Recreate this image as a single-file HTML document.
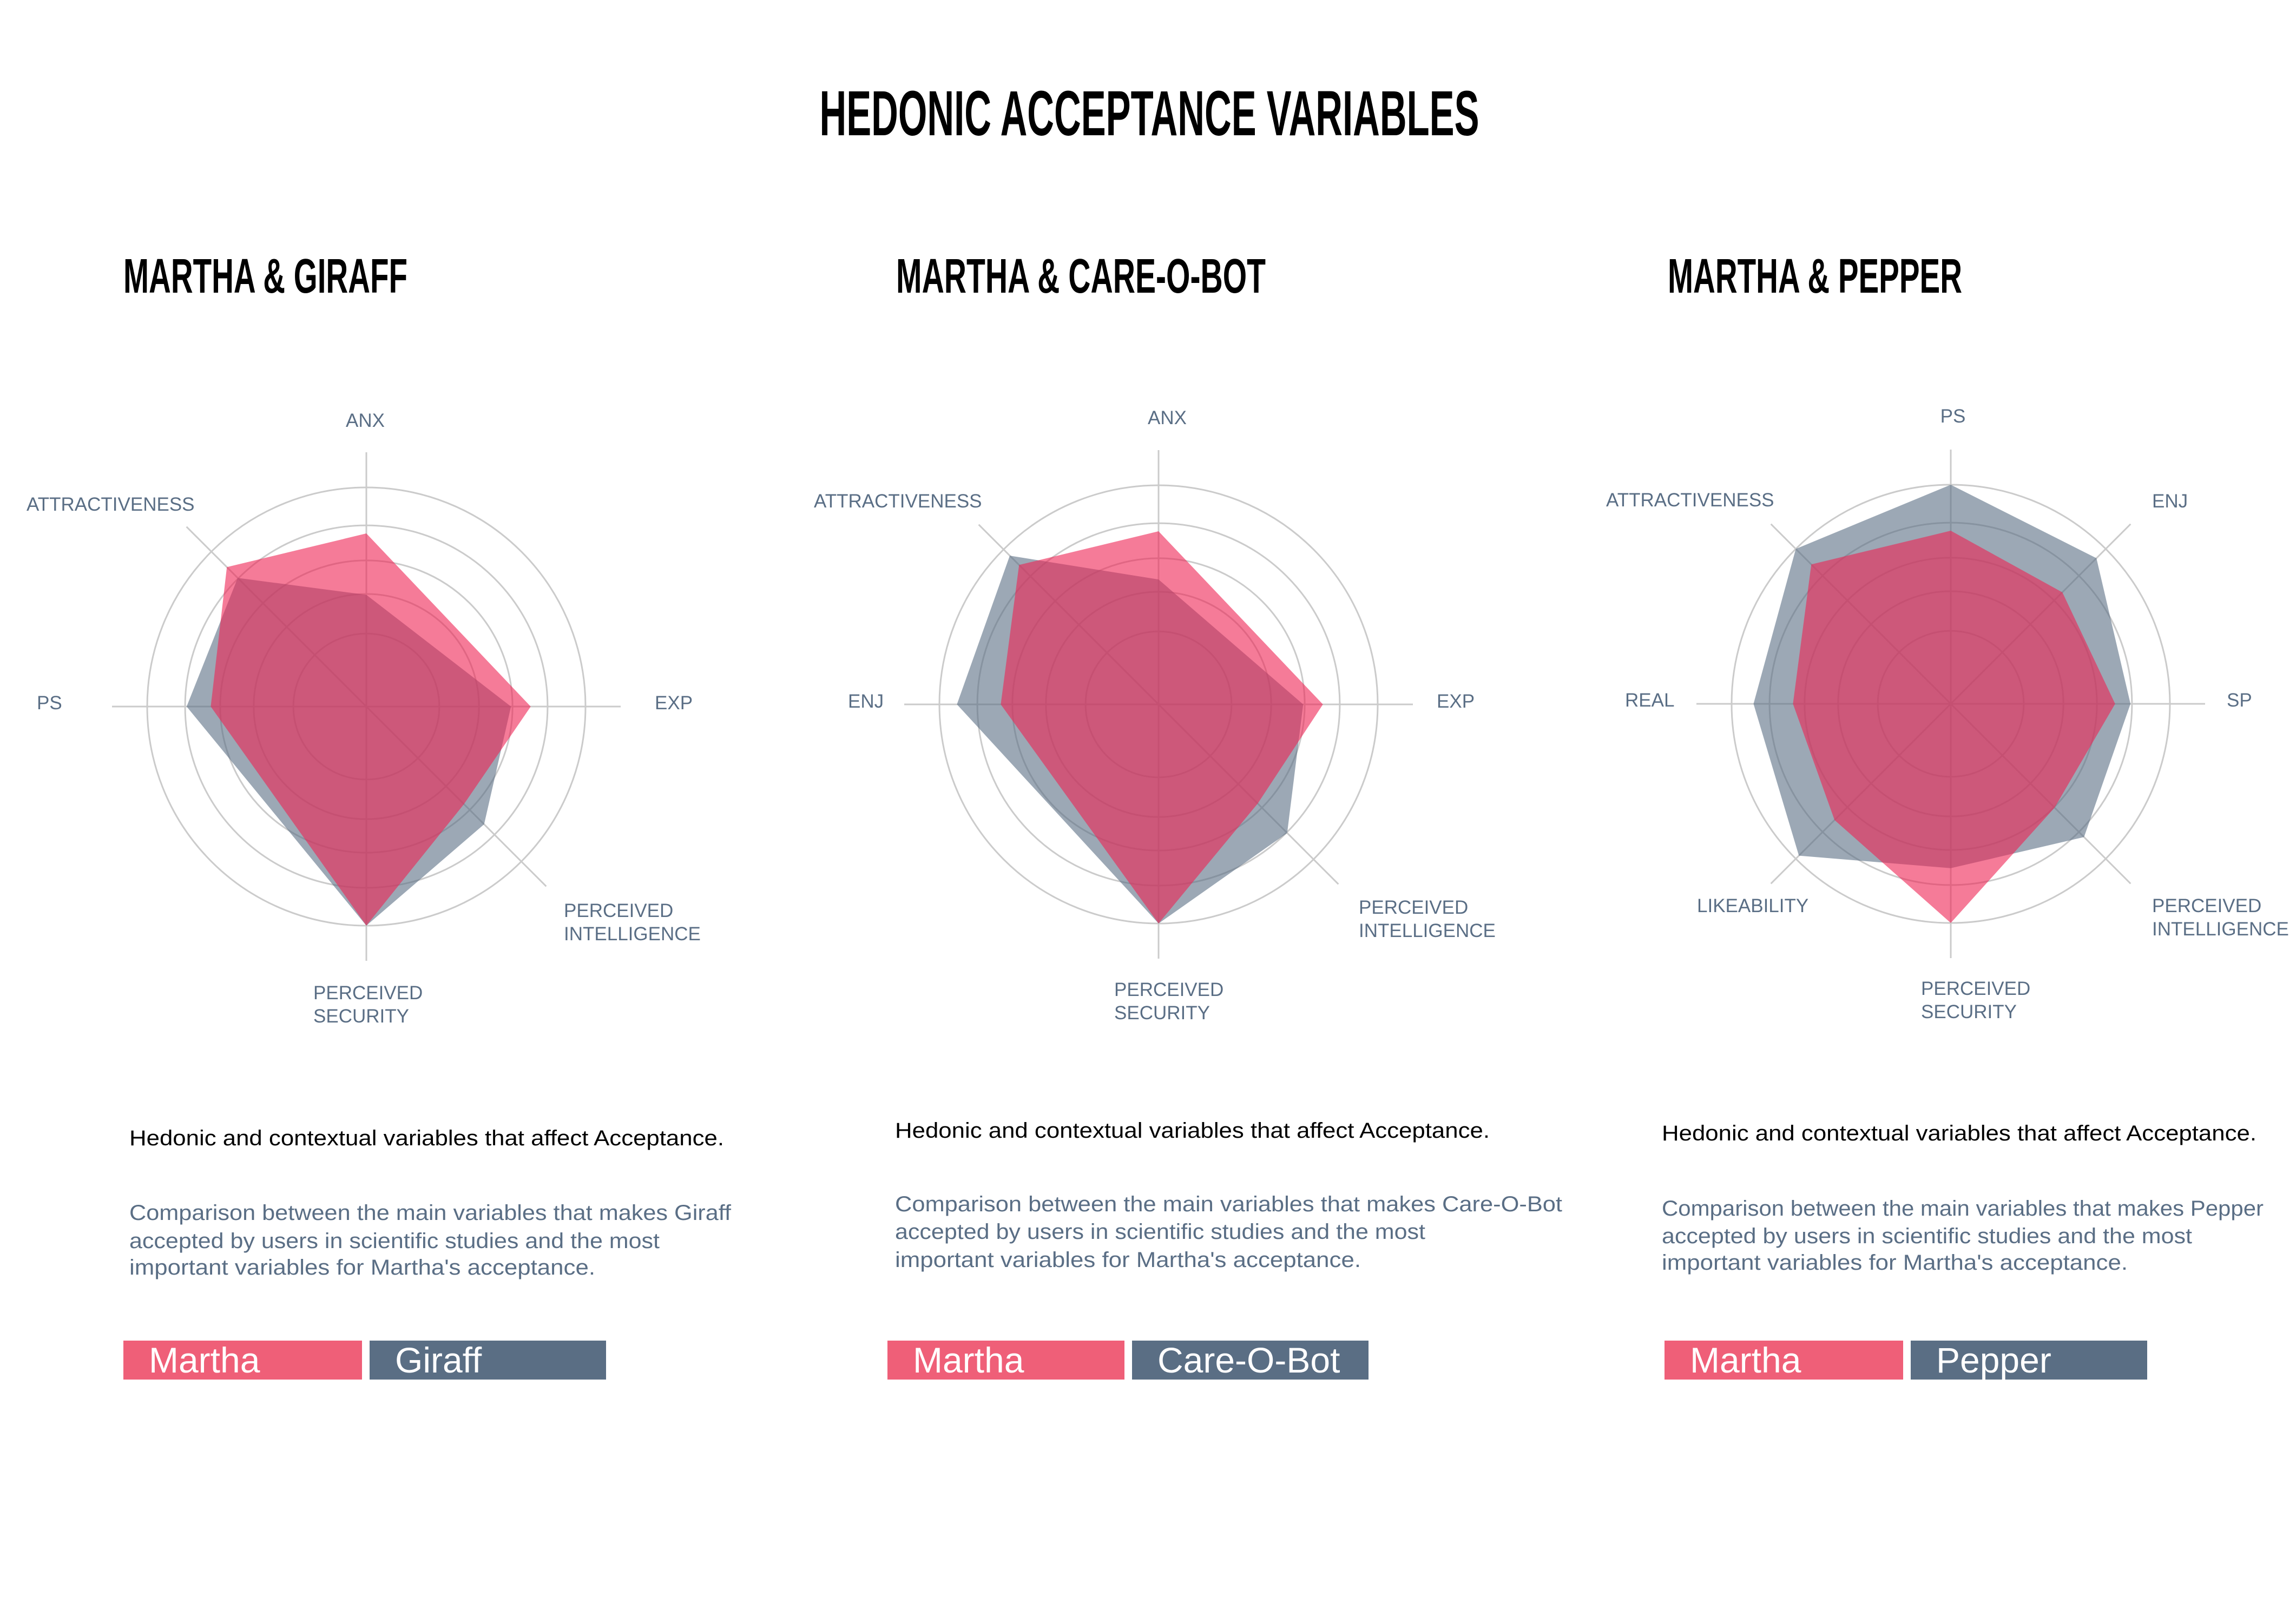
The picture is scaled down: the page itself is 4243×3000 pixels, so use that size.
<!DOCTYPE html>
<html><head><meta charset="utf-8"><title>Hedonic Acceptance Variables</title>
<style>
html,body{margin:0;padding:0;background:#fff;}
svg{display:block;}
text{font-family:"Liberation Sans",sans-serif;}
.narrow{font-family:"Liberation Sans Narrow","Liberation Sans",sans-serif;}
</style></head>
<body>
<svg id="root" width="4243" height="3000" viewBox="0 0 4243 3000" xmlns="http://www.w3.org/2000/svg">
  <rect x="0" y="0" width="4243" height="3000" fill="#fff"/>
  <text class="narrow" x="2124" y="250" text-anchor="middle" font-size="118" font-weight="bold" fill="#000" textLength="1219" lengthAdjust="spacingAndGlyphs">HEDONIC ACCEPTANCE VARIABLES</text>
  <g id="charts"></g>
</svg>
<script>
// ---- Chart data ----
const robots = ["Giraff", "Care-O-Bot", "Pepper"];
const chartTitles = ["MARTHA & GIRAFF", "MARTHA & CARE-O-BOT", "MARTHA & PEPPER"];
const axesGiraff = ["ANX", "EXP", "PERCEIVED|INTELLIGENCE", "PERCEIVED|SECURITY", "PS", "ATTRACTIVENESS"];
const anglesGiraff = [90, 0, -45, -90, 180, 135];
const marthaGiraff = [0.79, 0.75, 0.63, 1.0, 0.71, 0.90];
const giraffValues = [0.51, 0.66, 0.76, 1.0, 0.82, 0.83];
const axesCare = ["ANX", "EXP", "PERCEIVED|INTELLIGENCE", "PERCEIVED|SECURITY", "ENJ", "ATTRACTIVENESS"];
const anglesCare = [90, 0, -45, -90, 180, 135];
const marthaCare = [0.79, 0.75, 0.64, 1.0, 0.72, 0.90];
const careValues = [0.57, 0.66, 0.83, 1.0, 0.92, 0.96];
const axesPepper = ["PS", "ENJ", "SP", "PERCEIVED|INTELLIGENCE", "PERCEIVED|SECURITY", "LIKEABILITY", "REAL", "ATTRACTIVENESS"];
const anglesPepper = [90, 45, 0, -45, -90, -135, 180, 135];
const marthaPepper = [0.79, 0.72, 0.75, 0.67, 1.0, 0.75, 0.72, 0.90];
const pepperValues = [1.0, 0.94, 0.82, 0.86, 0.75, 0.98, 0.90, 1.0];
const ringLevels = [0.333, 0.514, 0.667, 0.827, 1.0];

// ---- layout ----
const NS = "http://www.w3.org/2000/svg";
const R = 405, AXLEN = 470;
const layouts = [
  {cx:677, cy:1306, titleX:228, titleW:525, textX:239, textY:[2117,2255,2307,2356], legX:228,
   labels:[[675,789,"middle"],[1210,1311,"start"],[1042,1695,"start"],[579,1847,"start"],[68,1311,"start"],[49,944,"start"]]},
  {cx:2141, cy:1302, titleX:1656, titleW:683, textX:1654, textY:[2103,2239,2290,2342], legX:1640,
   labels:[[2157,784,"middle"],[2655,1308,"start"],[2511,1689,"start"],[2059,1841,"start"],[1567,1308,"start"],[1504,938,"start"]]},
  {cx:3605, cy:1301, titleX:3082, titleW:544, textX:3071, textY:[2108,2247,2298,2347], legX:3076,
   labels:[[3609,781,"middle"],[3977,938,"start"],[4115,1306,"start"],[3977,1686,"start"],[3550,1839,"start"],[3136,1686,"start"],[3003,1306,"start"],[2968,936,"start"]]}
];
const sets = [
  {axes:axesGiraff, angles:anglesGiraff, m:marthaGiraff, r:giraffValues},
  {axes:axesCare, angles:anglesCare, m:marthaCare, r:careValues},
  {axes:axesPepper, angles:anglesPepper, m:marthaPepper, r:pepperValues}
];
const legW = [441, 438, 441];

function mk(tag, attrs, parent){
  const el = document.createElementNS(NS, tag);
  for (const k in attrs) el.setAttribute(k, attrs[k]);
  parent.appendChild(el);
  return el;
}
function pt(cx, cy, ang, v){
  const a = ang*Math.PI/180;
  return [cx + Math.cos(a)*v*R, cy - Math.sin(a)*v*R];
}

const root = document.getElementById("charts");
sets.forEach((s, i) => {
  const L = layouts[i];
  const g = mk("g", {}, root);
  
  

  const t = mk("text", {x:L.titleX, y:541, "font-size":90, "font-weight":"bold", fill:"#000", class:"narrow", textLength:L.titleW, lengthAdjust:"spacingAndGlyphs"}, g);
  t.textContent = chartTitles[i];
  
  

  ringLevels.forEach(lv => {
    const c = mk("circle", {cx:L.cx, cy:L.cy, r:lv*R, fill:"none", stroke:"#cbcbcb", "stroke-width":3}, g);
    
    
  });
  s.angles.forEach(ang => {
    const [x2, y2] = pt(L.cx, L.cy, ang, AXLEN/R);
    const ln = mk("line", {x1:L.cx, y1:L.cy, x2:x2, y2:y2, stroke:"#cbcbcb", "stroke-width":3}, g);
    
    
  });

  const robotPts = s.angles.map((a, k) => pt(L.cx, L.cy, a, s.r[k]).join(",")).join(" ");
  const rp = mk("polygon", {points:robotPts, fill:"#5a6e84", "fill-opacity":0.6}, g);
  
  
  const marthaPts = s.angles.map((a, k) => pt(L.cx, L.cy, a, s.m[k]).join(",")).join(" ");
  const mp = mk("polygon", {points:marthaPts, fill:"rgb(238,35,83)", "fill-opacity":0.6}, g);
  
  

  s.axes.forEach((name, k) => {
    const [lx, ly, anchor] = L.labels[k];
    const parts = name.split("|");
    parts.forEach((p, j) => {
      const tx = mk("text", {x:lx, y:ly + j*43, "font-size":35, fill:"#5a6e85", "text-anchor":anchor}, g);
      tx.textContent = p;
      
      
    });
  });

  const d1 = mk("text", {x:L.textX, y:L.textY[0], "font-size":40, fill:"#000", textLength:1099, lengthAdjust:"spacingAndGlyphs"}, g);
  d1.textContent = "Hedonic and contextual variables that affect Acceptance.";
  
  
  const lines = ["Comparison between the main variables that makes " + robots[i],
                 "accepted by users in scientific studies and the most",
                 "important variables for Martha's acceptance."];
  const lw = [i===1?1233:1112, 980, 861];
  lines.forEach((ln, j) => {
    const tx = mk("text", {x:L.textX, y:L.textY[j+1], "font-size":40, fill:"#5a6e85", textLength:lw[j], lengthAdjust:"spacingAndGlyphs"}, g);
    tx.textContent = ln;
    
    
  });

  const lg = mk("g", {}, g);
  
  
  const b1 = mk("rect", {x:L.legX, y:2478, width:legW[i], height:72, fill:"#ef5f78"}, lg);
  
  
  const l1 = mk("text", {x:L.legX+47, y:2537, "font-size":66, fill:"#fff", class:"narrow"}, lg);
  l1.textContent = "Martha";
  
  
  const b2x = L.legX + legW[i] + 14;
  const b2 = mk("rect", {x:b2x, y:2478, width:437, height:72, fill:"#5a6e84"}, lg);
  
  
  const l2 = mk("text", {x:b2x+47, y:2537, "font-size":66, fill:"#fff", class:"narrow"}, lg);
  l2.textContent = robots[i];
  
  
});
</script>
</body></html>
